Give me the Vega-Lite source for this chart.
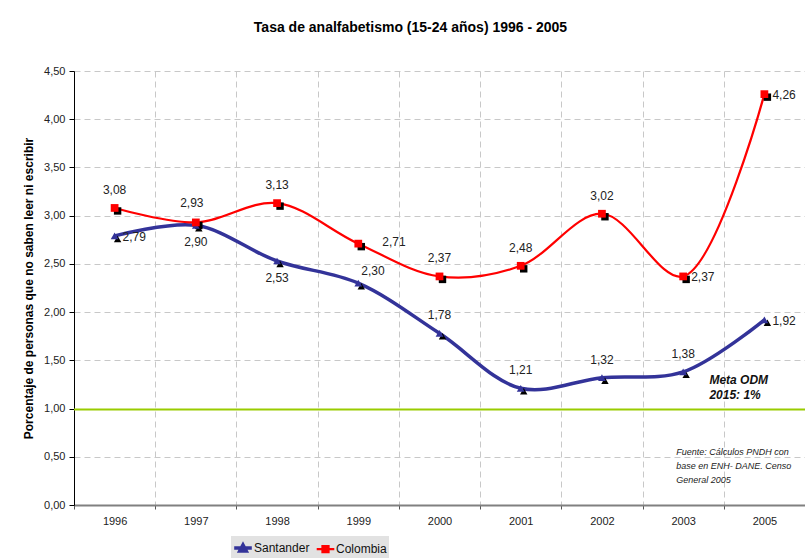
{
  "$schema": "https://vega.github.io/schema/vega-lite/v6.json",
  "autosize": "none",
  "width": 731,
  "height": 434,
  "padding": {"left": 74, "top": 71, "right": 0, "bottom": 53},
  "background": "white",
  "title": {
    "text": "Tasa de analfabetismo (15-24 años) 1996 - 2005",
    "fontSize": 14,
    "fontWeight": "bold",
    "font": "Liberation Sans",
    "color": "#000000",
    "dx": -29,
    "offset": 30
  },
  "config": {
    "locale": {"number": {"decimal": ",", "thousands": ".", "grouping": [3], "currency": ["", ""]}},
    "view": {"stroke": null},
    "font": "Liberation Sans"
  },
  "data": {
    "values": [
      {"year": "1996", "series": "Santander", "value": 2.79},
      {"year": "1997", "series": "Santander", "value": 2.90},
      {"year": "1998", "series": "Santander", "value": 2.53},
      {"year": "1999", "series": "Santander", "value": 2.30},
      {"year": "2000", "series": "Santander", "value": 1.78},
      {"year": "2001", "series": "Santander", "value": 1.21},
      {"year": "2002", "series": "Santander", "value": 1.32},
      {"year": "2003", "series": "Santander", "value": 1.38},
      {"year": "2005", "series": "Santander", "value": 1.92},
      {"year": "1996", "series": "Colombia", "value": 3.08},
      {"year": "1997", "series": "Colombia", "value": 2.93},
      {"year": "1998", "series": "Colombia", "value": 3.13},
      {"year": "1999", "series": "Colombia", "value": 2.71},
      {"year": "2000", "series": "Colombia", "value": 2.37},
      {"year": "2001", "series": "Colombia", "value": 2.48},
      {"year": "2002", "series": "Colombia", "value": 3.02},
      {"year": "2003", "series": "Colombia", "value": 2.37},
      {"year": "2005", "series": "Colombia", "value": 4.26}
    ]
  },
  "encoding": {
    "x": {
      "field": "year",
      "type": "nominal",
      "sort": ["1996", "1997", "1998", "1999", "2000", "2001", "2002", "2003", "2005"],
      "scale": {"paddingInner": 0, "paddingOuter": 0},
      "axis": {
        "title": null,
        "labelAngle": 0,
        "labelFontSize": 11,
        "labelColor": "#222222",
        "labelPadding": 6,
        "tickBand": "extent",
        "grid": true,
        "gridColor": "#c8c8c8",
        "gridDash": [6, 4],
        "gridWidth": 1,
        "domainColor": "#808080",
        "domainWidth": 2,
        "tickColor": "#555555",
        "tickSize": 4
      }
    },
    "y": {
      "field": "value",
      "type": "quantitative",
      "scale": {"domain": [0, 4.5], "nice": false},
      "axis": {
        "title": "Porcentaje de personas que no saben leer ni escribir",
        "titleFontSize": 12,
        "titleFontWeight": "bold",
        "titleColor": "#000000",
        "titlePadding": 8,
        "values": [0, 0.5, 1, 1.5, 2, 2.5, 3, 3.5, 4, 4.5],
        "format": ".2f",
        "labelFontSize": 11,
        "labelColor": "#222222",
        "labelPadding": 4,
        "grid": true,
        "gridColor": "#c8c8c8",
        "gridDash": [6, 4],
        "domainColor": "#000000",
        "domainWidth": 1,
        "tickColor": "#000000",
        "tickSize": 5
      }
    }
  },
  "layer": [
    {
      "data": {"values": [{"meta": 0.99}]},
      "mark": {"type": "rule", "color": "#99cc00", "strokeWidth": 2},
      "encoding": {"y": {"field": "meta", "type": "quantitative"}, "x": null}
    },
    {
      "mark": {"type": "line", "interpolate": "catmull-rom"},
      "encoding": {
        "color": {
          "field": "series",
          "type": "nominal",
          "scale": {"domain": ["Santander", "Colombia"], "range": ["#333399", "#ff0000"]},
          "legend": {
            "orient": "none",
            "legendX": 157,
            "legendY": 465,
            "direction": "horizontal",
            "title": null,
            "fillColor": "#e2e2e2",
            "padding": 2,
            "labelFontSize": 12,
            "labelColor": "#111111",
            "labelFont": "Liberation Sans",
            "labelOffset": 1,
            "symbolSize": 256,
            "columnPadding": 2,
            "encode": {
              "symbols": {
                "update": {
                  "shape": {"signal": "datum.value == 'Santander' ? 'M-1.1,0L1.1,0M-0.4,0.35L0,-0.4L0.4,0.35Z' : 'M-1.1,0L1.1,0M-0.38,-0.38L0.38,-0.38L0.38,0.38L-0.38,0.38Z'"},
                  "fill": {"signal": "datum.value == 'Santander' ? '#333399' : '#ff0000'"},
                  "stroke": {"signal": "datum.value == 'Santander' ? '#333399' : '#ff0000'"},
                  "strokeWidth": {"value": 2.5},
                  "size": {"value": 256},
                  "opacity": {"value": 1}
                }
              }
            }
          }
        },
        "strokeWidth": {
          "field": "series",
          "type": "nominal",
          "scale": {"domain": ["Santander", "Colombia"], "range": [3.5, 2.2]},
          "legend": null
        }
      }
    },
    {
      "transform": [{"filter": "datum.series == 'Santander'"}],
      "mark": {"type": "point", "shape": "triangle-up", "filled": true, "opacity": 1, "color": "#000000", "xOffset": 3, "yOffset": 3, "size": 55}
    },
    {
      "transform": [{"filter": "datum.series == 'Colombia'"}],
      "mark": {"type": "point", "shape": "square", "filled": true, "opacity": 1, "color": "#000000", "xOffset": 3, "yOffset": 3, "size": 55}
    },
    {
      "transform": [{"filter": "datum.series == 'Santander'"}],
      "mark": {"type": "point", "shape": "triangle-up", "filled": true, "opacity": 1, "size": 60},
      "encoding": {"color": {"field": "series", "type": "nominal"}}
    },
    {
      "transform": [{"filter": "datum.series == 'Colombia'"}],
      "mark": {"type": "point", "shape": "square", "filled": true, "opacity": 1, "size": 60},
      "encoding": {"color": {"field": "series", "type": "nominal"}}
    },
    {
      "transform": [{"filter": "(datum.series == 'Colombia' && indexof(['1996','1998','2000','2001','2002'], datum.year) >= 0) || (datum.series == 'Santander' && indexof(['2000','2001','2002','2003'], datum.year) >= 0)"}],
      "mark": {"type": "text", "dy": -18, "fontSize": 12, "color": "#222222"},
      "encoding": {"text": {"field": "value", "type": "quantitative", "format": ".2f"}}
    },
    {
      "transform": [{"filter": "datum.series == 'Colombia' && datum.year == '1997'"}],
      "mark": {"type": "text", "dy": -19, "dx": -4, "fontSize": 12, "color": "#222222"},
      "encoding": {"text": {"field": "value", "type": "quantitative", "format": ".2f"}}
    },
    {
      "transform": [{"filter": "datum.series == 'Santander' && indexof(['1997','1998'], datum.year) >= 0"}],
      "mark": {"type": "text", "dy": 17, "fontSize": 12, "color": "#222222"},
      "encoding": {"text": {"field": "value", "type": "quantitative", "format": ".2f"}}
    },
    {
      "transform": [{"filter": "(datum.series == 'Colombia' && indexof(['2003','2005'], datum.year) >= 0) || (datum.series == 'Santander' && indexof(['1996','2005'], datum.year) >= 0)"}],
      "mark": {"type": "text", "align": "left", "dx": 8, "dy": 1, "fontSize": 12, "color": "#222222"},
      "encoding": {"text": {"field": "value", "type": "quantitative", "format": ".2f"}}
    },
    {
      "transform": [{"filter": "datum.series == 'Colombia' && datum.year == '1999'"}],
      "mark": {"type": "text", "align": "left", "dx": 24, "dy": -2, "fontSize": 12, "color": "#222222"},
      "encoding": {"text": {"field": "value", "type": "quantitative", "format": ".2f"}}
    },
    {
      "transform": [{"filter": "datum.series == 'Santander' && datum.year == '1999'"}],
      "mark": {"type": "text", "align": "left", "dx": 3, "dy": -12, "fontSize": 12, "color": "#222222"},
      "encoding": {"text": {"field": "value", "type": "quantitative", "format": ".2f"}}
    },
    {
      "data": {"values": [{"year": "2005", "yv": 1.3, "note": ["Meta ODM", "2015: 1%"]}]},
      "mark": {"type": "text", "align": "left", "baseline": "middle", "dx": -55, "fontSize": 12, "fontWeight": "bold", "fontStyle": "italic", "color": "#111111", "lineHeight": 15},
      "encoding": {
        "y": {"field": "yv", "type": "quantitative"},
        "text": {"field": "note"}
      }
    },
    {
      "data": {"values": [{"year": "2003", "yv": 0.55, "note": ["Fuente: Cálculos PNDH con", "base en ENH- DANE. Censo", "General 2005"]}]},
      "mark": {"type": "text", "align": "left", "baseline": "middle", "dx": -7, "fontSize": 9, "fontStyle": "italic", "color": "#222222", "lineHeight": 14},
      "encoding": {
        "y": {"field": "yv", "type": "quantitative"},
        "text": {"field": "note"}
      }
    }
  ]
}
